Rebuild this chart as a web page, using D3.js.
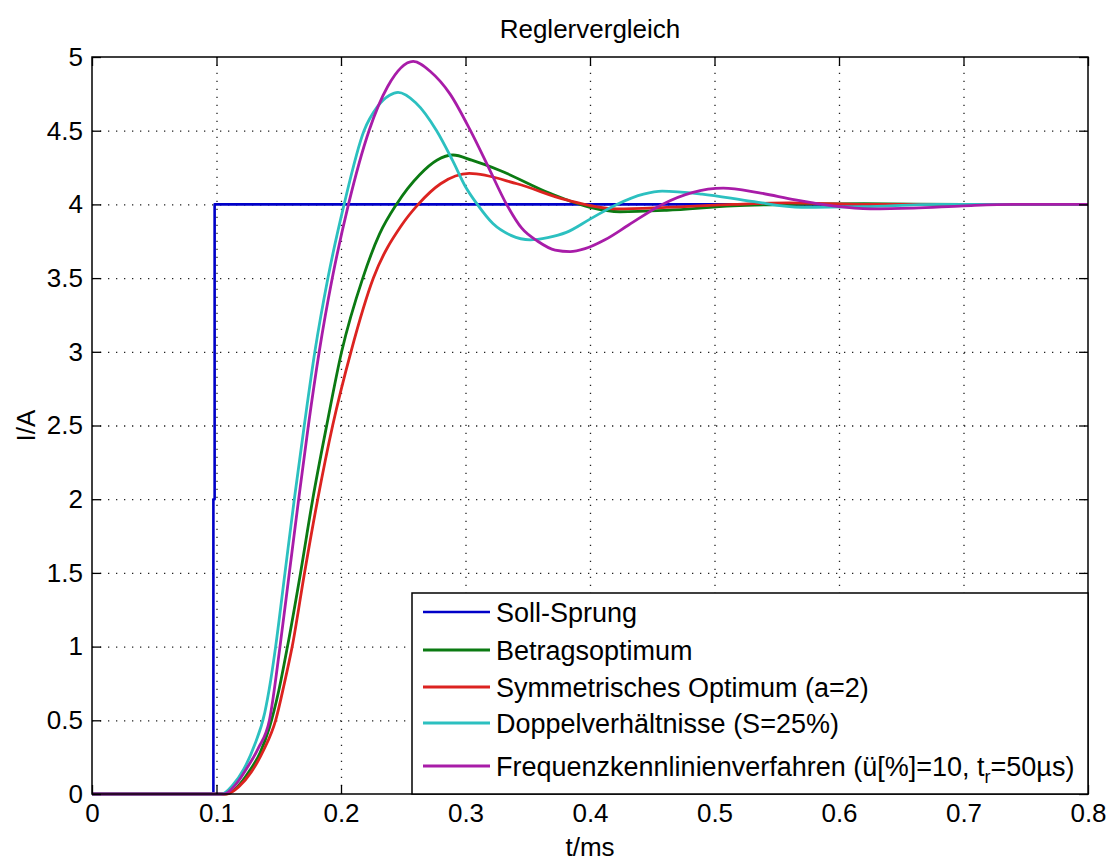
<!DOCTYPE html>
<html>
<head>
<meta charset="utf-8">
<script src="https://cdn.jsdelivr.net/npm/d3@7"></script>
<style>
  body { margin: 0; background: #fff; }
  text { font-family: "Liberation Sans", Arial, Helvetica, sans-serif; fill: #000; }
  .grid line { stroke: #222; stroke-width: 1.3; stroke-dasharray: 1.3 6.7; }
  .grid .domain { display: none; }
  .ax .domain { display: none; }
  .ax line { stroke: #000; stroke-width: 1.3; }
</style>
</head>
<body>
<svg id="chart" width="1111" height="862"></svg>
<script>
// tick values + labels
const xTicks = [0, 0.1, 0.2, 0.3, 0.4, 0.5, 0.6, 0.7, 0.8];
const xTickLabels = ["0", "0.1", "0.2", "0.3", "0.4", "0.5", "0.6", "0.7", "0.8"];
const yTicks = [0, 0.5, 1, 1.5, 2, 2.5, 3, 3.5, 4, 4.5, 5];
const yTickLabels = ["0", "0.5", "1", "1.5", "2", "2.5", "3", "3.5", "4", "4.5", "5"];

// Soll-Sprung (set point step)
const tSoll = [0, 0.0975, 0.0975, 0.0985, 0.0985, 0.8];
const iSoll = [0, 0, 2, 2, 4, 4];

// Betragsoptimum
const tBetrag = [0, 0.1, 0.107, 0.117, 0.126, 0.135, 0.1425, 0.15, 0.157, 0.1675, 0.1773, 0.1885, 0.2005, 0.2175, 0.231, 0.2445, 0.263, 0.277, 0.29, 0.305, 0.3277, 0.3679, 0.4, 0.4241, 0.4616, 0.515, 0.56, 0.62, 0.7, 0.8];
const iBetrag = [0, 0, 0, 0.05, 0.15, 0.28, 0.45, 0.7, 1.0, 1.5, 2.0, 2.5, 3.0, 3.5, 3.8, 4.0, 4.2, 4.3, 4.335, 4.3, 4.23, 4.075, 3.98, 3.95, 3.96, 3.99, 4.0, 4.005, 4.0, 4.0];

// Symmetrisches Optimum (a=2)
const tSymm = [0, 0.1, 0.108, 0.118, 0.128, 0.138, 0.1475, 0.1545, 0.1608, 0.1707, 0.1813, 0.1933, 0.208, 0.226, 0.2488, 0.262, 0.28, 0.303, 0.3414, 0.381, 0.4215, 0.4616, 0.515, 0.56, 0.62, 0.7, 0.8];
const iSymm = [0, 0, 0, 0.05, 0.15, 0.3, 0.5, 0.75, 1.0, 1.5, 2.0, 2.5, 3.0, 3.5, 3.86, 4.0, 4.14, 4.21, 4.14, 4.03, 3.97, 3.98, 4.0, 4.01, 4.0, 4.0, 4.0];

// Doppelverhältnisse (S=25%)
const tDoppel = [0, 0.1, 0.104, 0.113, 0.122, 0.1305, 0.1387, 0.1435, 0.1475, 0.155, 0.1625, 0.1705, 0.179, 0.1895, 0.2025, 0.2185, 0.229, 0.239, 0.2458, 0.26, 0.2768, 0.2895, 0.3, 0.3095, 0.322, 0.3365, 0.352, 0.366, 0.381, 0.4, 0.4215, 0.443, 0.458, 0.49, 0.53, 0.57, 0.62, 0.68, 0.8];
const iDoppel = [0, 0, 0, 0.06, 0.17, 0.33, 0.55, 0.77, 1.0, 1.5, 2.0, 2.5, 3.0, 3.5, 4.0, 4.5, 4.66, 4.74, 4.76, 4.69, 4.5, 4.3, 4.12, 4.0, 3.87, 3.79, 3.76, 3.775, 3.81, 3.9, 4.0, 4.07, 4.09, 4.07, 4.02, 3.98, 3.985, 4.0, 4.0];

// Frequenzkennlinienverfahren
const tFreq = [0, 0.1, 0.106, 0.115, 0.124, 0.1335, 0.1425, 0.151, 0.1585, 0.166, 0.1738, 0.1825, 0.193, 0.206, 0.2225, 0.2375, 0.258, 0.272, 0.2875, 0.304, 0.318, 0.333, 0.345, 0.358, 0.372, 0.384, 0.396, 0.412, 0.431, 0.458, 0.482, 0.507, 0.535, 0.565, 0.595, 0.625, 0.66, 0.7, 0.74, 0.8];
const iFreq = [0, 0, 0, 0.06, 0.17, 0.31, 0.5, 1.0, 1.5, 2.0, 2.5, 3.0, 3.5, 4.0, 4.5, 4.8, 4.97, 4.9, 4.75, 4.5, 4.26, 4.0, 3.84, 3.75, 3.69, 3.68, 3.7, 3.76, 3.86, 4.0, 4.08, 4.11, 4.08, 4.03, 3.99, 3.97, 3.975, 3.99, 4.0, 4.0];

const seriesNames = [
  "Soll-Sprung",
  "Betragsoptimum",
  "Symmetrisches Optimum (a=2)",
  "Doppelverhältnisse (S=25%)",
  "Frequenzkennlinienverfahren"
];

const width = 1111, height = 862;
const margin = { top: 57, right: 23, bottom: 68, left: 92 };
const w = width - margin.left - margin.right;
const h = height - margin.top - margin.bottom;

const svg = d3.select("#chart");
const g = svg.append("g").attr("transform", `translate(${margin.left},${margin.top})`);

const x = d3.scaleLinear().domain([0, 0.8]).range([0, w]);
const y = d3.scaleLinear().domain([0, 5]).range([h, 0]);

// dotted grid, skip the box edges
g.append("g").attr("class", "grid")
  .attr("transform", `translate(0,${h})`)
  .call(d3.axisBottom(x).tickValues(xTicks.slice(1, -1)).tickSize(-h).tickFormat(""));
g.append("g").attr("class", "grid")
  .call(d3.axisLeft(y).tickValues(yTicks.slice(1, -1)).tickSize(-w).tickFormat(""));

// curves
const series = [
  { t: tSoll, v: iSoll, color: "#0000c8", lw: 2.6, curve: d3.curveLinear },
  { t: tBetrag, v: iBetrag, color: "#0b7a12", lw: 2.8, curve: d3.curveMonotoneX },
  { t: tSymm, v: iSymm, color: "#dc2320", lw: 2.8, curve: d3.curveMonotoneX },
  { t: tDoppel, v: iDoppel, color: "#2cc0c0", lw: 2.8, curve: d3.curveMonotoneX },
  { t: tFreq, v: iFreq, color: "#a81ca8", lw: 2.8, curve: d3.curveMonotoneX }
];

series.forEach(s => {
  const line = d3.line()
    .x((d, i) => x(s.t[i]))
    .y(d => y(d))
    .curve(s.curve);
  g.append("path")
    .attr("d", line(s.v))
    .attr("fill", "none")
    .attr("stroke", s.color)
    .attr("stroke-width", s.lw)
    .attr("stroke-linejoin", "round");
});

// axes with inward ticks
const xLab = d3.scaleOrdinal().domain(xTicks).range(xTickLabels);
const yLab = d3.scaleOrdinal().domain(yTicks).range(yTickLabels);

const xAx = g.append("g").attr("class", "ax").attr("transform", `translate(0,${h})`)
  .call(d3.axisBottom(x).tickValues(xTicks).tickSize(-9).tickPadding(10).tickFormat(xLab));
xAx.selectAll("text").attr("font-size", 26).attr("dy", "0.71em");

const yAx = g.append("g").attr("class", "ax")
  .call(d3.axisLeft(y).tickValues(yTicks).tickSize(-9).tickPadding(9).tickFormat(yLab));
yAx.selectAll("text").attr("font-size", 26);

g.append("g").attr("class", "ax")
  .call(d3.axisTop(x).tickValues(xTicks).tickSize(-9).tickFormat(""));
g.append("g").attr("class", "ax").attr("transform", `translate(${w},0)`)
  .call(d3.axisRight(y).tickValues(yTicks).tickSize(-9).tickFormat(""));

// box
g.append("rect")
  .attr("width", w).attr("height", h)
  .attr("fill", "none").attr("stroke", "#000").attr("stroke-width", 1.5);

// labels
svg.append("text")
  .attr("x", margin.left + w / 2).attr("y", 38)
  .attr("text-anchor", "middle").attr("font-size", 26)
  .text("Reglervergleich");

svg.append("text")
  .attr("x", margin.left + w / 2).attr("y", 856)
  .attr("text-anchor", "middle").attr("font-size", 26)
  .text("t/ms");

svg.append("text")
  .attr("transform", `translate(35,${margin.top + y(2.5)}) rotate(-90)`)
  .attr("text-anchor", "middle").attr("font-size", 26)
  .text("I/A");

// legend (bottom right, flush with the axes box)
const legX = 412, legY = 593;
const rowY = [19, 57, 94, 130, 173];
const leg = svg.append("g").attr("transform", `translate(${legX},${legY})`);
leg.append("rect")
  .attr("width", margin.left + w - legX).attr("height", margin.top + h - legY)
  .attr("fill", "#fff").attr("stroke", "#000").attr("stroke-width", 1.5);

series.forEach((s, i) => {
  leg.append("line")
    .attr("x1", 11).attr("x2", 78)
    .attr("y1", rowY[i]).attr("y2", rowY[i])
    .attr("stroke", s.color).attr("stroke-width", s.lw);
  const txt = leg.append("text")
    .attr("x", 84).attr("y", rowY[i]).attr("dy", "0.36em")
    .attr("font-size", 27)
    .text(seriesNames[i]);
  if (i === 4) {
    txt.append("tspan").text(" (ü[%]=10, t");
    txt.append("tspan").attr("font-size", 18).attr("dy", 7).text("r");
    txt.append("tspan").attr("dy", -7).text("=50µs)");
  }
});
</script>
</body>
</html>
